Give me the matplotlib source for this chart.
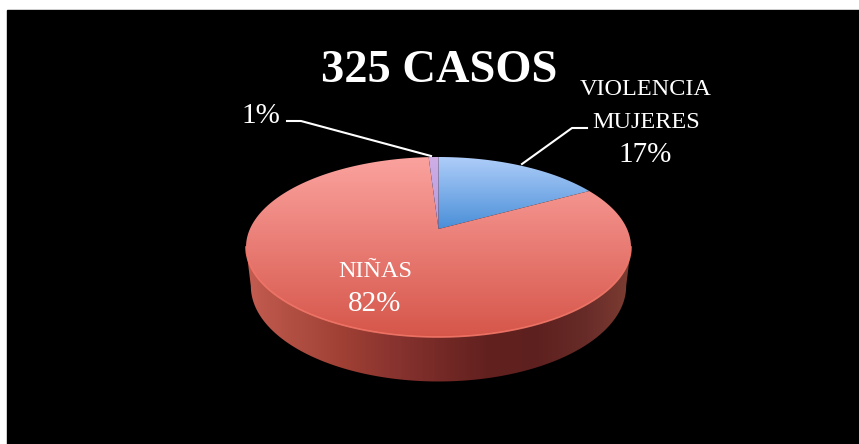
#Goal: 3D looking pie chart of 325 cases on a black panel
import matplotlib
matplotlib.use('Agg')
import matplotlib.pyplot as plt
import numpy as np
from matplotlib.colors import LinearSegmentedColormap
from matplotlib.patches import Polygon, Rectangle

plt.rcParams['font.family'] = ['Liberation Serif', 'DejaVu Serif']

#data
title = '325 CASOS'
categories = ['VIOLENCIA\nMUJERES', 'NIÑAS', '']
values = [17, 82, 1]

#look of each slice, top colour then bottom colour
slice_colors = [('#aecdf9', '#4a8fd8'), ('#fba29e', '#d6564a'), ('#cfaee6', '#b498d8')]
side_colors = ['#c45c52', '#b04e42', '#a04034', '#8a3430', '#762a27', '#62211f', '#5e201e', '#662a27', '#7c3c32']

#disc in perspective, apex of the slices is at cx, cy
cx, cy = 438.5, 229
a, b, k = 188.6, 86.4, 0.2


def project(angle, scale=1.0, shift=0.0, stretch=1.0):
    #angle is clockwise from north, in radians
    u = np.sin(angle)
    v = np.cos(angle)
    d = 1 + k * v
    return cx + scale * a * u / d, cy + shift - stretch * b * v / d


fig = plt.figure(figsize=(8.59, 4.44), dpi=100, facecolor='white')
ax = fig.add_axes([0, 0, 1, 1])
ax.axis('off')
ax.add_patch(Rectangle((7, 10), 852, 434, color='black', zorder=0))

#side of the disc, only the part facing the viewer
right = np.arccos(-k)
theta = np.linspace(right, 2 * np.pi - right, 300)
tx, ty = project(theta)
bx, by = project(theta, scale=0.975, shift=38, stretch=1.06)
side = Polygon(np.r_[np.c_[tx, ty], np.c_[bx, by][::-1]], closed=True, fc='none', ec='none')
ax.add_patch(side)
side_cmap = LinearSegmentedColormap.from_list('side', side_colors)
strip = np.linspace(0, 1, 385)[None, :]
im = ax.imshow(strip, extent=(246, 631, 384, 240), cmap=side_cmap, aspect='auto', zorder=2)
im.set_clip_path(side)

#top of the disc, one gradient filled polygon per slice
fractions = np.array(values) / sum(values)
edges = np.r_[0, np.cumsum(fractions)] * 2 * np.pi
for i in range(len(values)):
    t = np.linspace(edges[i], edges[i + 1], 200)
    x, y = project(t)
    wedge = Polygon(np.r_[[[cx, cy]], np.c_[x, y]], closed=True, fc='none', ec='none')
    ax.add_patch(wedge)
    cmap = LinearSegmentedColormap.from_list('s%d' % i, slice_colors[i])
    #red slice shades over the whole disc, the small ones stop at the apex
    bottom = 337 if i == 1 else cy
    im = ax.imshow(np.linspace(0, 1, 200)[:, None], extent=(246, 631, bottom, 157), cmap=cmap,
                   aspect='auto', zorder=3)
    im.set_clip_path(wedge)

#light rim along the front edge
ax.plot(tx, ty, color='#f4786a', linewidth=1.2, alpha=0.9, zorder=4)

#leader lines
ax.plot([287, 301, 431], [121, 121, 156], color='white', linewidth=1.5, zorder=5)
ax.plot([587, 572, 522], [128, 128, 164], color='white', linewidth=1.5, zorder=5)

#labels, the percents are drawn a bit larger than the names
ax.text(439, 71, title, color='white', fontsize=33.5, fontweight='bold', ha='center', va='center', zorder=6)
ax.text(646, 106, categories[0], color='white', fontsize=17.5, ha='center', va='center', linespacing=1.8, zorder=6)
ax.text(645, 155, '%d%%' % values[0], color='white', fontsize=21, ha='center', va='center', zorder=6)
ax.text(375, 271, categories[1], color='white', fontsize=17.5, ha='center', va='center', zorder=6)
ax.text(375, 304, '%d%%' % values[1], color='white', fontsize=21, ha='center', va='center', zorder=6)
ax.text(261, 116, '%d%%' % values[2], color='white', fontsize=21, ha='center', va='center', zorder=6)

ax.set_xlim(0, 859)
ax.set_ylim(444, 0)

fig.savefig('out.png', dpi=100, facecolor='white')
